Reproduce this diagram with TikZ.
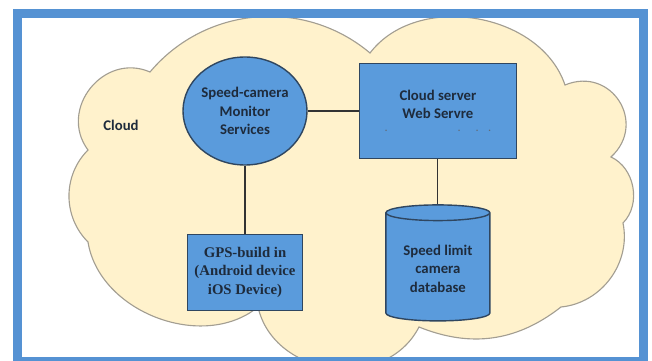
\documentclass[tikz,border=0pt]{standalone}
\usepackage{fontspec}
\usepackage{tikz}
\usetikzlibrary{positioning,shapes.geometric}
\newfontfamily\calfont{Carlito}
\newfontfamily\timesfont{Liberation Serif}
\definecolor{frameblue}{HTML}{5592D3}
\definecolor{boxblue}{HTML}{5A9BDC}
\definecolor{boxline}{HTML}{2F4660}
\definecolor{cloudfill}{HTML}{FFF2CC}
\definecolor{cloudline}{HTML}{A39E92}
\definecolor{labeltext}{HTML}{1E2B3C}

\begin{document}
\begin{tikzpicture}[
        Srv/.style={rectangle, draw=boxline, fill=boxblue, line width=1pt, align=center, text=labeltext, font=\calfont\bfseries\fontsize{10.5}{13}\selectfont},
        Mon/.style={ellipse, draw=boxline, fill=boxblue, line width=1pt, inner sep=0pt, align=center, text=labeltext, font=\calfont\bfseries\fontsize{10.5}{13}\selectfont},
        Db/.style={cylinder, shape border rotate=90, aspect=0.2, draw=boxline, fill=boxblue, line width=1pt, align=center, text=labeltext, font=\calfont\bfseries\fontsize{10.5}{13}\selectfont},
        Dev/.style={rectangle, draw=boxline, fill=boxblue, line width=1pt, align=center, text=labeltext, font=\timesfont\bfseries\fontsize{10.5}{13}\selectfont},
        puffline/.style={draw=cloudline, fill=cloudfill, line width=0.8pt},
        link/.style={draw=black!80, line width=0.8pt}
    ]
    \useasboundingbox (0,0) rectangle (16.3,9);

    % cloud background
    \path[puffline] (2.2,2.95)
        to[bend left=45] (2.2,5.25)
        to[bend left=75, looseness=1.3] (3.75,7.2)
        to[bend left=45] (9.25,7.675)
        to[bend left=62] (14.125,6.875)
        to[bend left=80, looseness=1.5] (15.275,5.075)
        to[bend left=55] (15.575,3.425)
        to[bend left=48] (14.025,1.325)
        to[bend left=30] (10.475,0.825)
        to[bend left=70, looseness=1.15] (6.45,1.325)
        to[bend left=60] (2.2,2.95) -- cycle;
    \node[text=labeltext, font=\calfont\bfseries\fontsize{10.5}{13}\selectfont] (cloud) at (3.025,5.875) {Cloud};

    % services
    \node[Mon, minimum width=3.1cm, minimum height=2.7cm] (mon) at (6.125,6.225) {Speed-camera\\Monitor\\Services};
    \node[Srv, minimum width=3.925cm, minimum height=2.375cm] (srv) [right=1.275cm of mon] {Cloud server\\Web Servre\\[-4pt]{\fontsize{7}{7}\selectfont\color{labeltext!70}.\hspace{50pt}.\hspace{11pt}.\hspace{7pt}.}};
    \node[Dev, minimum width=2.875cm, minimum height=1.9cm] (gps) [below=1.7cm of mon] {GPS-build in\\(Android device\\iOS Device)};
    \node[Db, minimum width=2.6cm, minimum height=2.9cm] (db) [below=1.125cm of srv] {Speed limit\\camera\\database};

    \draw[link] (mon) -- (srv);
    \draw[link] (mon) -- (gps);
    \draw[link] (srv) -- (db);

    % frame
    \draw[frameblue, line width=0.225cm] (0.4375,-0.0375) rectangle (16.075,8.6625);
\end{tikzpicture}
\end{document}
